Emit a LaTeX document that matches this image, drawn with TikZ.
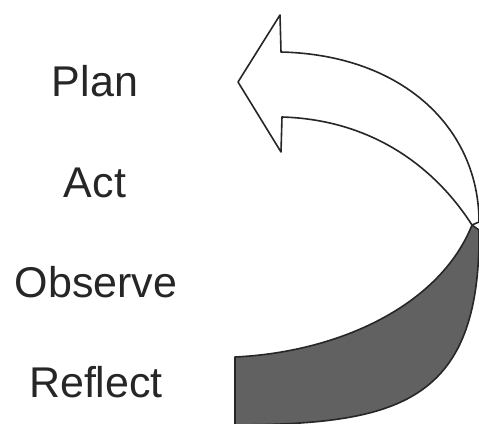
\documentclass[tikz,border=0pt]{standalone}
\usepackage{fontspec}
\setmainfont{Liberation Sans}
\begin{document}
\begin{tikzpicture}[x=1pt,y=-1pt,
  lbl/.style={font=\fontsize{43}{43}\selectfont, text=black!85, inner sep=0pt, anchor=center},
  ribbon/.style={draw=black!85, line width=1.6pt, line join=round}]
\useasboundingbox (0,0) rectangle (479,423);
\clip (0,0) rectangle (479,423);
% labels
\node[lbl] (plan) at (95,81) {Plan};
\node[lbl] (act) at (95,183) {Act};
\node[lbl] (observe) at (96,282) {Observe};
\node[lbl] (reflect) at (96,382) {Reflect};
% coordinates
\coordinate (T1) at (280,15);
\coordinate (N1) at (281,52);
\coordinate (P) at (238,82);
\coordinate (T2) at (281,152);
\coordinate (N2) at (282,117);
\coordinate (X) at (472,225);
\coordinate (R) at (479,230);
\coordinate (B1) at (235,425);
\coordinate (B2) at (235,357);
% dark lower band
\filldraw[ribbon, fill=black!62]
  (X) -- (R) .. controls (481,405) and (395,424) .. (B1)
  -- (B2) .. controls (340,352) and (440,305) .. (X) -- cycle;
% white arrow
\filldraw[ribbon, fill=white]
  (N1) .. controls (405,55) and (479,130) .. (479,222) -- (X)
  .. controls (440,175) and (380,120) .. (N2)
  -- (T2) -- (P) -- (T1) -- cycle;
\end{tikzpicture}
\end{document}
